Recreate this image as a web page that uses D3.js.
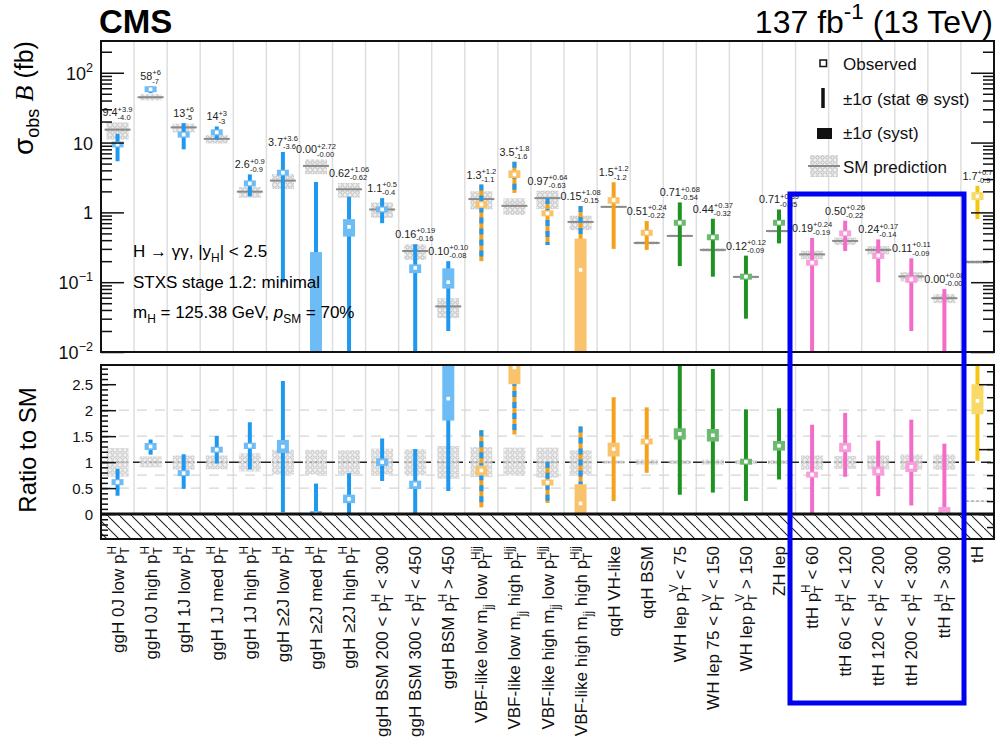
<!DOCTYPE html>
<meta charset="utf-8">
<body style="margin:0;background:#fff">
<script src="https://cdn.jsdelivr.net/npm/d3@7"></script>
<script>
// ---- data ----
var categories = [
  "ggH 0J low p_{T}^{H}", "ggH 0J high p_{T}^{H}", "ggH 1J low p_{T}^{H}", "ggH 1J med p_{T}^{H}",
  "ggH 1J high p_{T}^{H}", "ggH \u22652J low p_{T}^{H}", "ggH \u22652J med p_{T}^{H}", "ggH \u22652J high p_{T}^{H}",
  "ggH BSM 200 < p_{T}^{H} < 300", "ggH BSM 300 < p_{T}^{H} < 450", "ggH BSM p_{T}^{H} > 450",
  "VBF-like low m_{jj} low p_{T}^{Hjj}", "VBF-like low m_{jj} high p_{T}^{Hjj}",
  "VBF-like high m_{jj} low p_{T}^{Hjj}", "VBF-like high m_{jj} high p_{T}^{Hjj}",
  "qqH VH-like", "qqH BSM", "WH lep p_{T}^{V} < 75", "WH lep 75 < p_{T}^{V} < 150", "WH lep p_{T}^{V} > 150",
  "ZH lep", "ttH p_{T}^{H} < 60", "ttH 60 < p_{T}^{H} < 120", "ttH 120 < p_{T}^{H} < 200",
  "ttH 200 < p_{T}^{H} < 300", "ttH p_{T}^{H} > 300", "tH"
];
var process = ["ggH","ggH","ggH","ggH","ggH","ggH","ggH","ggH","ggH","ggH","ggH",
  "vbf","vbf","vbf","vbf","qqH","qqH","VH","VH","VH","VH","ttH","ttH","ttH","ttH","ttH","tH"];

// observed value and total uncertainty, as printed (fb)
var obsText = ["9.4","58","13","14","2.6","3.7","0.00","0.62","1.1","0.16","0.10","1.3","3.5","0.97","0.15",
  "1.5","0.51","0.71","0.44","0.12","0.71","0.19","0.50","0.24","0.11","0.00","1.7"];
var upText = ["+3.9","+6","+6","+3","+0.9","+3.6","+2.72","+1.06","+0.5","+0.19","+0.10","+1.2","+1.8","+0.64","+1.08",
  "+1.2","+0.24","+0.68","+0.37","+0.12","+0.39","+0.24","+0.26","+0.17","+0.11","+0.08","+0.7"];
var downText = ["-4.0","-7","-5","-3","-0.9","-3.6","-0.00","-0.62","-0.4","-0.16","-0.08","-1.1","-1.6","-0.63","-0.15",
  "-1.2","-0.22","-0.54","-0.32","-0.09","-0.35","-0.19","-0.22","-0.14","-0.09","-0.00","-0.9"];
// systematic part (fb)
var systUp = [0.3,3,0.7,0.6,0.12,0.37,0.27,0.18,0.08,0.02,0.058,0.15,0.5,0.06,0.27,0.15,0.02,0.05,0.035,0.005,0.05,0.01,0.035,0.025,0.012,0.008,0.25];
var systDown = [0.3,3,0.7,0.6,0.12,0.35,0,0.17,0.08,0.025,0.019,0.15,0.4,0.06,0.145,0.17,0.02,0.05,0.035,0.005,0.05,0.01,0.035,0.025,0.012,0,0.2];
// SM prediction (fb) and its relative uncertainty
var smXS = [15.3,44.6,16.5,11.3,1.98,2.85,4.63,2.14,1.10,0.28,0.045,1.55,1.24,1.60,0.73,
  1.20,0.365,0.46,0.29,0.119,0.54,0.25,0.39,0.29,0.121,0.059,0.195];
var smUncUp = [0.27,0.11,0.13,0.13,0.17,0.24,0.24,0.23,0.26,0.25,0.31,0.29,0.28,0.28,0.23,
  0.03,0.05,0.04,0.05,0.04,0.04,0.13,0.12,0.13,0.15,0.15,0.06];
var smUncDown = [0.28,0.10,0.15,0.14,0.18,0.24,0.24,0.24,0.24,0.26,0.32,0.29,0.26,0.30,0.24,
  0.03,0.05,0.04,0.05,0.04,0.04,0.15,0.13,0.14,0.15,0.15,0.06];
var thRatioScale = 4;   // tH ratio is drawn on its own (right-hand) scale

var logMajor = [0.01, 0.1, 1, 10, 100];
var logLabels = ["10^{\u22122}", "10^{\u22121}", "1", "10", "10^{2}"];
var ratioMajor = [0, 0.5, 1, 1.5, 2, 2.5];
var ratioGrid = [0.5, 0.75, 1.5, 2];

var colors = {ggH:"#1f98ef", vbf:"#f4a21c", qqH:"#f4a21c", VH:"#1f9322", ttH:"#f36cc8", tH:"#f5c614"};
var FONT = "'Liberation Sans', Arial, Helvetica, sans-serif";

// text with _{sub}, ^{sup}, stacked _{}^{} and *italic*
function rich(sel, str, s) {
  var toks = str.split(/(_\{[^}]*\}(?:\^\{[^}]*\})?|\^\{[^}]*\}|\*[^*]*\*)/).filter(function(t){return t;});
  var shift = 0, pend = 0;
  toks.forEach(function(t) {
    var m = t.match(/^_\{([^}]*)\}(?:\^\{([^}]*)\})?$/);
    if (m) {
      var a = sel.append("tspan").attr("font-size", s*0.7).attr("dx", pend).attr("dy", 0.3*s - shift).text(m[1]);
      shift = 0.3*s; pend = 0;
      if (m[2] !== undefined) {
        var wa = a.node().getComputedTextLength();
        var b = sel.append("tspan").attr("font-size", s*0.7).attr("dx", -wa).attr("dy", -0.45*s - shift).text(m[2]);
        shift = -0.45*s;
        pend = Math.max(0, wa - b.node().getComputedTextLength());
      }
      return;
    }
    m = t.match(/^\^\{([^}]*)\}$/);
    if (m) {
      sel.append("tspan").attr("font-size", s*0.7).attr("dx", pend).attr("dy", -0.45*s - shift).text(m[1]);
      shift = -0.45*s; pend = 0;
      return;
    }
    var it = t.match(/^\*([^*]*)\*$/);
    sel.append("tspan").attr("font-size", s).attr("dx", pend).attr("dy", -shift)
      .attr("font-style", it ? "italic" : null).text(it ? it[1] : t);
    shift = 0; pend = 0;
  });
  return sel;
}

var W = 997, H = 740, n = categories.length;
var svg = d3.select("body").append("svg").attr("width", W).attr("height", H)
  .style("font-family", FONT).style("white-space", "pre");
var defs = svg.append("defs");
var pat = defs.append("pattern").attr("id", "smHatch").attr("width", 5).attr("height", 5)
  .attr("patternUnits", "userSpaceOnUse");
pat.append("rect").attr("width", 5).attr("height", 5).attr("fill", "#eeeeee");
pat.append("circle").attr("cx", 2.5).attr("cy", 2.5).attr("r", 1.7).attr("fill", "none")
  .attr("stroke", "#b3b3b3").attr("stroke-width", 0.9);
var neg = defs.append("pattern").attr("id", "negHatch").attr("width", 12).attr("height", 12)
  .attr("patternUnits", "userSpaceOnUse");
neg.append("path").attr("d", "M0,0L12,12").attr("stroke", "#222").attr("stroke-width", 1.1);

var left = 101, right = 994;
var x = d3.scaleBand().domain(d3.range(n)).range([left, right]);
var cx = function(i) { return x(i) + x.bandwidth()/2; };
var topT = 41, topB = 352, botT = 365, botB = 539;
var yTop = d3.scaleLog().domain([0.01, 285]).range([topB, topT]);
var yBot = d3.scaleLinear().domain([-0.48, 2.87]).range([botB, botT]);
var yTH = d3.scaleLinear().domain([-0.48*thRatioScale, 2.87*thRatioScale]).range([botB, botT]);

defs.append("clipPath").attr("id", "clipTop").append("rect")
  .attr("x", left).attr("y", topT).attr("width", right-left).attr("height", topB-topT);
defs.append("clipPath").attr("id", "clipBot").append("rect")
  .attr("x", left).attr("y", botT).attr("width", right-left).attr("height", botB-botT);

var obs = obsText.map(Number), eUp = upText.map(Number), eDn = downText.map(function(d){return -Number(d);});
function light(c) { return d3.interpolateRgb(c, "#ffffff")(0.35); }

function errLine(g, i, y1, y2) {
  var c = colors[process[i]];
  if (process[i] === "vbf") {
    g.append("line").attr("x1", cx(i)).attr("x2", cx(i)).attr("y1", y1).attr("y2", y2)
      .attr("stroke", colors.vbf).attr("stroke-width", 4);
    g.append("line").attr("x1", cx(i)).attr("x2", cx(i)).attr("y1", y1).attr("y2", y2)
      .attr("stroke", colors.ggH).attr("stroke-width", 4).attr("stroke-dasharray", "6,5");
  } else {
    g.append("line").attr("x1", cx(i)).attr("x2", cx(i)).attr("y1", y1).attr("y2", y2)
      .attr("stroke", c).attr("stroke-width", 4);
  }
}
function systBox(g, i, y1, y2, yc) {
  var c = colors[process[i] === "vbf" ? "vbf" : process[i]];
  var h = Math.abs(y2 - y1), yy = Math.min(y1, y2);
  if (h < 6) { yy = yc - 3; h = 6; }
  g.append("rect").attr("x", cx(i) - 6).attr("y", yy).attr("width", 12).attr("height", h).attr("fill", light(c));
}

// ================= top panel =================
var gTop = svg.append("g");
d3.range(1, n).forEach(function(i) {
  gTop.append("line").attr("x1", x(i)).attr("x2", x(i)).attr("y1", topT).attr("y2", topB)
    .attr("stroke", "#dedede").attr("stroke-width", 1.5);
});
var pTop = gTop.append("g").attr("clip-path", "url(#clipTop)");
var lo = 1e-4;
d3.range(n).forEach(function(i) {
  var sm = smXS[i];
  pTop.append("rect").attr("x", cx(i) - 11).attr("width", 22)
    .attr("y", yTop(sm*(1+smUncUp[i]))).attr("height", yTop(sm*(1-smUncDown[i])) - yTop(sm*(1+smUncUp[i])))
    .attr("fill", "url(#smHatch)");
  pTop.append("line").attr("x1", cx(i) - 13).attr("x2", cx(i) + 13).attr("y1", yTop(sm)).attr("y2", yTop(sm))
    .attr("stroke", "#8a8a8a").attr("stroke-width", 2);
  var yc = yTop(Math.max(obs[i], lo));
  errLine(pTop, i, yTop(Math.max(obs[i] + eUp[i], lo)), yTop(Math.max(obs[i] - eDn[i], lo)));
  if (obs[i] + systUp[i] > 0.01)
    systBox(pTop, i, yTop(Math.max(obs[i] + systUp[i], lo)), yTop(Math.max(obs[i] - systDown[i], lo)), yc);
  if (obs[i] > 0)
    pTop.append("rect").attr("x", cx(i) - 1.8).attr("y", yc - 1.8).attr("width", 3.6).attr("height", 3.6).attr("fill", "#fff");
});
// value labels
d3.range(n).forEach(function(i) {
  var sm = smXS[i];
  var yb = Math.min(yTop(Math.max(obs[i] + eUp[i], lo)), yTop(sm*(1+smUncUp[i]))) - 6;
  var t = gTop.append("text").attr("y", yb).attr("fill", "#222");
  rich(t, obsText[i] + "_{" + downText[i] + "}^{" + upText[i] + "}", 10.8);
  var w = t.node().getBBox().width;
  t.attr("x", cx(i) - w/2);
});
gTop.append("rect").attr("x", left).attr("y", topT).attr("width", right-left).attr("height", topB-topT)
  .attr("fill", "none").attr("stroke", "#111").attr("stroke-width", 2);

// log axes
var minorLog = [];
[-2, -1, 0, 1, 2].forEach(function(e) {
  d3.range(2, 10).forEach(function(k) { var v = k*Math.pow(10, e); if (v < 285) minorLog.push(v); });
});
function tickAxis(g, scale, vals, len, side) {
  var ax = (side === "left" ? d3.axisRight(scale) : d3.axisLeft(scale)).tickValues(vals).tickSize(len).tickFormat("");
  var a = g.call(ax);
  a.select(".domain").remove();
  a.selectAll("line").attr("stroke", "#111").attr("stroke-width", 1.5);
}
tickAxis(svg.append("g").attr("transform", "translate(" + left + ",0)"), yTop, logMajor, 23, "left");
tickAxis(svg.append("g").attr("transform", "translate(" + left + ",0)"), yTop, minorLog, 11, "left");
tickAxis(svg.append("g").attr("transform", "translate(" + right + ",0)"), yTop, logMajor, 23, "right");
tickAxis(svg.append("g").attr("transform", "translate(" + right + ",0)"), yTop, minorLog, 11, "right");
logMajor.forEach(function(v, k) {
  var t = svg.append("text").attr("x", 93).attr("y", yTop(v) + 7).attr("text-anchor", "end").attr("fill", "#111");
  rich(t, logLabels[k], 18);
});

// text blocks
svg.append("text").attr("x", 99).attr("y", 33).attr("font-size", 33).attr("font-weight", "bold").text("CMS");
rich(svg.append("text").attr("x", 993).attr("y", 33).attr("text-anchor", "end"), "137 fb^{-1} (13 TeV)", 32);
rich(svg.append("text").attr("x", 133).attr("y", 257), "H \u2192 \u03b3\u03b3, |y_{H}| < 2.5", 17);
rich(svg.append("text").attr("x", 133).attr("y", 288), "STXS stage 1.2: minimal", 17);
rich(svg.append("text").attr("x", 133).attr("y", 318), "m_{H} = 125.38 GeV,  *p*_{SM} = 70%", 17);

// y titles
var yt = svg.append("text").attr("transform", "translate(33,98) rotate(-90)").attr("text-anchor", "middle");
yt.append("tspan").attr("font-size", 28).text("\u03c3");
yt.append("tspan").attr("font-size", 18).attr("dy", 6).text("obs");
yt.append("tspan").attr("font-size", 26).attr("dy", -6).text(" ");
yt.append("tspan").attr("font-size", 26).attr("font-style", "italic").attr("font-family", "'Liberation Serif', serif").text("B");
yt.append("tspan").attr("font-size", 25).text(" (fb)");
svg.append("text").attr("transform", "translate(36,450) rotate(-90)").attr("text-anchor", "middle")
  .attr("font-size", 24).text("Ratio to SM");

// legend
var lg = svg.append("g");
lg.append("rect").attr("x", 820).attr("y", 60).attr("width", 6.5).attr("height", 6.5).attr("fill", "#fff")
  .attr("stroke", "#111").attr("stroke-width", 1.5);
lg.append("line").attr("x1", 823).attr("x2", 823).attr("y1", 88).attr("y2", 108).attr("stroke", "#111").attr("stroke-width", 3.5);
lg.append("rect").attr("x", 817).attr("y", 128).attr("width", 15).attr("height", 11).attr("fill", "#111");
lg.append("rect").attr("x", 810).attr("y", 155).attr("width", 28).attr("height", 22).attr("fill", "url(#smHatch)");
lg.append("line").attr("x1", 808).attr("x2", 840).attr("y1", 166).attr("y2", 166).attr("stroke", "#8a8a8a").attr("stroke-width", 2);
[["Observed", 70], ["\u00b11\u03c3 (stat \u2295 syst)", 105], ["\u00b11\u03c3 (syst)", 139], ["SM prediction", 173]]
  .forEach(function(d) {
    lg.append("text").attr("x", 843).attr("y", d[1]).attr("font-size", 17).attr("fill", "#111").text(d[0]);
  });

// ================= bottom panel =================
var gBot = svg.append("g");
gBot.append("rect").attr("x", left).attr("y", botT).attr("width", right-left).attr("height", botB-botT).attr("fill", "#fff");
d3.range(1, n).forEach(function(i) {
  gBot.append("line").attr("x1", x(i)).attr("x2", x(i)).attr("y1", botT).attr("y2", botB)
    .attr("stroke", "#dedede").attr("stroke-width", 1.5);
});
ratioGrid.forEach(function(v) {
  gBot.append("line").attr("x1", left).attr("x2", right).attr("y1", yBot(v)).attr("y2", yBot(v))
    .attr("stroke", "#d6d6d6").attr("stroke-width", 1.3).attr("stroke-dasharray", "10,8");
});
gBot.append("line").attr("x1", left).attr("x2", right).attr("y1", yBot(1)).attr("y2", yBot(1))
  .attr("stroke", "#222").attr("stroke-width", 1.5).attr("stroke-dasharray", "10,6");
var pBot = gBot.append("g").attr("clip-path", "url(#clipBot)");
d3.range(n).forEach(function(i) {
  var sm = smXS[i], k = process[i] === "tH" ? thRatioScale : 1;
  var yr = function(v) { return yBot(v / sm / k); };
  pBot.append("rect").attr("x", cx(i) - 11).attr("width", 22)
    .attr("y", yBot((1+smUncUp[i])/k)).attr("height", yBot((1-smUncDown[i])/k) - yBot((1+smUncUp[i])/k))
    .attr("fill", "url(#smHatch)").attr("opacity", 0.9);
  pBot.append("line").attr("x1", cx(i) - 11).attr("x2", cx(i) + 11).attr("y1", yBot(1/k)).attr("y2", yBot(1/k))
    .attr("stroke", "#999").attr("stroke-width", 1.3).attr("stroke-dasharray", "2,3");
  var yc = yr(obs[i]);
  errLine(pBot, i, yr(obs[i] + eUp[i]), yr(Math.max(obs[i] - eDn[i], 0)));
  systBox(pBot, i, yr(obs[i] + systUp[i]), yr(Math.max(obs[i] - systDown[i], 0)), yc);
  pBot.append("rect").attr("x", cx(i) - 1.8).attr("y", yc - 1.8).attr("width", 3.6).attr("height", 3.6).attr("fill", "#fff");
});
// unphysical region
gBot.append("rect").attr("x", left).attr("y", yBot(0)).attr("width", right-left).attr("height", botB - yBot(0)).attr("fill", "#fff");
gBot.append("rect").attr("x", left).attr("y", yBot(0)).attr("width", right-left).attr("height", botB - yBot(0)).attr("fill", "url(#negHatch)");
gBot.append("line").attr("x1", left).attr("x2", right).attr("y1", yBot(0)).attr("y2", yBot(0))
  .attr("stroke", "#111").attr("stroke-width", 3);
gBot.append("rect").attr("x", left).attr("y", botT).attr("width", right-left).attr("height", botB-botT)
  .attr("fill", "none").attr("stroke", "#111").attr("stroke-width", 2);

tickAxis(svg.append("g").attr("transform", "translate(" + left + ",0)"), yBot, ratioMajor, 15, "left");
tickAxis(svg.append("g").attr("transform", "translate(" + left + ",0)"), yBot,
  d3.range(-4, 29).map(function(k){return k/10;}), 7, "left");
tickAxis(svg.append("g").attr("transform", "translate(" + right + ",0)"), yTH, [0, 5, 10], 15, "right");
tickAxis(svg.append("g").attr("transform", "translate(" + right + ",0)"), yTH, d3.range(-1, 12), 7, "right");
ratioMajor.forEach(function(v) {
  svg.append("text").attr("x", 93).attr("y", yBot(v) + 5.5).attr("text-anchor", "end")
    .attr("font-size", 15).attr("fill", "#111").text(v);
});

// category labels
categories.forEach(function(c, i) {
  var t = svg.append("text").attr("transform", "translate(" + (cx(i) + 6) + ",546) rotate(-90)")
    .attr("text-anchor", "end").attr("fill", "#111");
  rich(t, c, 17);
});

// highlight box around the ttH bins
svg.append("rect").attr("x", 790).attr("y", 194).attr("width", 174).attr("height", 509)
  .attr("fill", "none").attr("stroke", "#0000f2").attr("stroke-width", 5);
</script>
</body>
